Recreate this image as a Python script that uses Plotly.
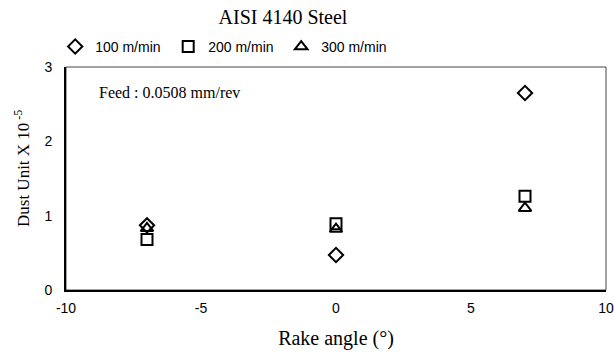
import plotly.graph_objects as go

rake = [-7, 0, 7]
s100 = [0.87, 0.47, 2.65]
s200 = [0.68, 0.89, 1.26]
s300 = [0.83, 0.82, 1.10]
names = ["100 m/min", "200 m/min", "300 m/min"]
symbols = ["diamond-open", "square-open", "triangle-up-open"]
xticks = [-10, -5, 0, 5, 10]
xticklabels = ["-10", "-5", "0", "5", "10"]
yticks = [0, 1, 2, 3]
yticklabels = ["0", "1", "2", "3"]

fig = go.Figure()
for name, vals, sym in zip(names, [s100, s200, s300], symbols):
    fig.add_trace(go.Scatter(
        x=rake, y=vals, mode="markers", name=name,
        marker=dict(symbol=sym, size=11, color="black", line=dict(width=2, color="black")),
    ))

fig.update_layout(
    width=614, height=354,
    margin=dict(l=66, r=8, t=67, b=64, autoexpand=False),
    paper_bgcolor="white", plot_bgcolor="white",
    title=dict(text="AISI 4140 Steel", x=283/614, xanchor="center", y=1-17/354, yanchor="middle",
               font=dict(family="Liberation Serif", size=20, color="black")),
    legend=dict(orientation="h", x=-0.02, xanchor="left", y=1.09, yanchor="middle",
                font=dict(family="Liberation Sans", size=14, color="black"),
                entrywidth=68, itemwidth=30, tracegroupgap=0, bgcolor="rgba(0,0,0,0)"),
    showlegend=True,
)
fig.update_xaxes(range=[-10, 10], tickvals=xticks, ticktext=xticklabels, showgrid=False, zeroline=False,
                 showline=True, linecolor="black", linewidth=2, mirror=False, automargin=False,
                 ticks="", ticklabelstandoff=4,
                 tickfont=dict(family="Liberation Sans", size=14, color="black"),
                 title=dict(text="Rake angle (°)", font=dict(family="Liberation Serif", size=20, color="black"), standoff=16))
fig.update_yaxes(range=[0, 3], tickvals=yticks, ticktext=yticklabels, showgrid=False, zeroline=False,
                 showline=True, linecolor="black", linewidth=2, mirror=False, automargin=False,
                 ticks="", ticklabelstandoff=9,
                 tickfont=dict(family="Liberation Sans", size=14, color="black"))
# y axis title placed as rotated annotation
fig.add_annotation(text="Dust Unit X 10<sup> -5</sup>", xref="paper", yref="paper",
                   x=(22-66)/540, y=(290-169)/223, xanchor="center", yanchor="middle",
                   textangle=-90, showarrow=False,
                   font=dict(family="Liberation Serif", size=17, color="black"))
# thin top/right frame
fig.add_shape(type="rect", xref="paper", yref="paper", x0=0, y0=0, x1=1, y1=1,
              line=dict(color="#444444", width=1), layer="below")
fig.add_annotation(text="Feed : 0.0508 mm/rev", xref="paper", yref="paper", x=(97-66)/540, y=(290-92)/223,
                   xanchor="left", yanchor="middle", showarrow=False,
                   font=dict(family="Liberation Serif", size=16, color="black"))
fig.write_html("out.html", config={"displayModeBar": False},
               post_script="document.body.style.margin='0';")
